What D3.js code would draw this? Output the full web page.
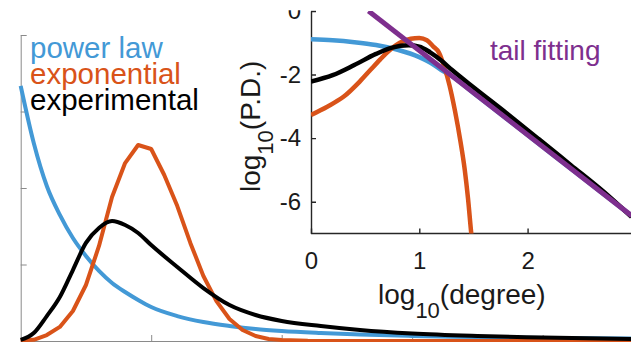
<!DOCTYPE html>
<html>
<head>
<meta charset="utf-8">
<script src="https://cdn.jsdelivr.net/npm/d3@7"></script>
<style>
  html, body { margin: 0; padding: 0; background: #fff; }
  svg { display: block; font-family: "Liberation Sans", Arial, Helvetica, sans-serif; }
</style>
</head>
<body>
<svg id="chart" width="631" height="342"></svg>
<script>
// ---------------- Main panel (linear scale) ----------------
const mainDegree = [0, 1, 2, 3, 4, 5, 6, 7, 8, 9, 10, 12, 14, 16, 18, 20, 23, 26, 30, 35, 40, 47];
const mainPowerLaw = [0.1667, 0.1294, 0.1013, 0.0824, 0.0673, 0.0556, 0.0458, 0.0379, 0.0320, 0.0268, 0.0222,
  0.0163, 0.0124, 0.0098, 0.0078, 0.0065, 0.0052, 0.0042, 0.0033, 0.0026, 0.0020, 0.0016];
const mainExperimental = [0.0007, 0.0052, 0.0163, 0.0288, 0.0464, 0.0641, 0.0739, 0.0784, 0.0758, 0.0706, 0.0627,
  0.0484, 0.0346, 0.0235, 0.0170, 0.0131, 0.0098, 0.0072, 0.0049, 0.0033, 0.0023, 0.0013];
const expDegree = [0, 1, 2, 3, 4, 5, 6, 7, 8, 9, 10, 11, 12, 13, 14, 15, 16, 17, 18, 19, 20, 22, 26, 47];
const mainExponential = [0.0005, 0.0008, 0.0039, 0.0092, 0.0196, 0.0366, 0.0621, 0.0941, 0.1163, 0.1281, 0.1255,
  0.1085, 0.0882, 0.0641, 0.0425, 0.0261, 0.0144, 0.0072, 0.0033, 0.0013, 0.0007, 0.0002, 0.0000, 0.0000];
const mainXTicks = [10, 20, 30, 40];
const mainYTicks = [0.05, 0.1, 0.15, 0.2];

// ---------------- Inset panel (log-log) ----------------
const insetPowerX = [0, 0.2, 0.4, 0.6, 0.8, 1.0, 1.1, 1.2, 1.3, 1.5, 1.8, 2.1, 2.4, 2.7, 2.96];
const insetPowerY = [-0.89, -0.92, -0.98, -1.07, -1.22, -1.45, -1.62, -1.85, -2.05, -2.58, -3.37, -4.17, -4.96, -5.76, -6.44];
const insetExpX = [0, 0.15, 0.30, 0.45, 0.55, 0.64, 0.72, 0.82, 0.92, 1.00, 1.07, 1.13, 1.18, 1.23, 1.28, 1.33, 1.38, 1.42, 1.45, 1.48, 1.50];
const insetExpY = [-3.27, -3.01, -2.70, -2.22, -1.85, -1.52, -1.25, -1.00, -0.87, -0.85, -0.92, -1.12, -1.30, -1.75, -2.35, -3.15, -4.10, -5.00, -5.90, -7.00, -7.60];
const insetExperX = [0, 0.2, 0.4, 0.6, 0.75, 0.9, 1.0, 1.1, 1.2, 1.3, 1.5, 1.8, 2.1, 2.4, 2.7, 2.96];
const insetExperY = [-2.22, -2.02, -1.70, -1.35, -1.15, -1.08, -1.12, -1.30, -1.55, -1.85, -2.40, -3.20, -4.02, -4.85, -5.68, -6.48];
const tailFitX = [0.531, 2.96];
const tailFitY = [0, -6.44];
const insetXTicks = [0, 1, 2];
const insetYTicks = [0, -2, -4, -6];

const colors = { power: "#4399D6", exp: "#D95319", exper: "#000000", tail: "#7E2F8E" };
const legendItems = [
  { label: "power law", color: colors.power },
  { label: "exponential", color: colors.exp },
  { label: "experimental", color: colors.exper }
];

const svg = d3.select("#chart");

// ---------- main scales ----------
const mx = d3.scaleLinear().domain([0, 46.77]).range([20.7, 631]);
const my = d3.scaleLinear().domain([0, 0.2]).range([341, 35]);

const mainAxisColor = "#8a8a8a";
const gmx = svg.append("g").attr("transform", "translate(0,341)")
  .call(d3.axisBottom(mx).tickValues(mainXTicks).tickSizeInner(-6).tickSizeOuter(0).tickFormat(""));
const gmy = svg.append("g").attr("transform", "translate(20.7,0)")
  .call(d3.axisLeft(my).tickValues(mainYTicks).tickSizeInner(-6).tickSizeOuter(0).tickFormat(""));
[gmx, gmy].forEach(g => {
  g.selectAll("path,line").attr("stroke", mainAxisColor).attr("stroke-width", 1);
});

const mainLine = (xs, ys, curve) => d3.line()
  .x((d, i) => mx(xs[i])).y((d, i) => my(ys[i])).curve(curve)(ys);

svg.append("path").attr("d", mainLine(mainDegree, mainPowerLaw, d3.curveMonotoneX))
  .attr("fill", "none").attr("stroke", colors.power).attr("stroke-width", 4).attr("stroke-linejoin", "round");
svg.append("path").attr("d", mainLine(expDegree, mainExponential, d3.curveLinear))
  .attr("fill", "none").attr("stroke", colors.exp).attr("stroke-width", 4).attr("stroke-linejoin", "round");
svg.append("path").attr("d", mainLine(mainDegree, mainExperimental, d3.curveMonotoneX))
  .attr("fill", "none").attr("stroke", colors.exper).attr("stroke-width", 4).attr("stroke-linejoin", "round");

// legend
svg.append("g").selectAll("text").data(legendItems).join("text")
  .attr("x", 30).attr("y", (d, i) => 57.5 + i * 26)
  .attr("font-size", 29.5).attr("fill", d => d.color).text(d => d.label);

// ---------- inset ----------
const ix = d3.scaleLinear().domain([0, 2.955]).range([311, 631]);
const iy = d3.scaleLinear().domain([-7, 0]).range([233.5, 11]);

const defs = svg.append("defs");
defs.append("clipPath").attr("id", "insetClip").append("rect")
  .attr("x", 311).attr("y", 11).attr("width", 320).attr("height", 222.5);
// clip in the local space of the y-axis group (translated by 311)
defs.append("clipPath").attr("id", "topClip").append("rect")
  .attr("x", -311).attr("y", 10.3).attr("width", 631).attr("height", 332);

const insetColor = "#262626";
const gix = svg.append("g").attr("transform", "translate(0,233.5)")
  .call(d3.axisBottom(ix).tickValues(insetXTicks).tickSizeInner(-5).tickSizeOuter(0).tickPadding(18).tickFormat(d3.format("d")));
const giy = svg.append("g").attr("transform", "translate(311,0)").attr("clip-path", "url(#topClip)")
  .call(d3.axisLeft(iy).tickValues(insetYTicks).tickSizeInner(-5).tickSizeOuter(0).tickPadding(10)
    .tickFormat(d => d < 0 ? "-" + Math.abs(d) : String(d)));
[gix, giy].forEach(g => {
  g.selectAll("path,line").attr("stroke", insetColor).attr("stroke-width", 1.4);
  g.selectAll("text").attr("font-size", 24).attr("fill", "#1a1a1a").attr("font-family", null);
});
gix.select(".domain").attr("d", "M311,0H631");

const insetPlot = svg.append("g").attr("clip-path", "url(#insetClip)");
const insetLine = (xs, ys, curve) => d3.line()
  .x((d, i) => ix(xs[i])).y((d, i) => iy(ys[i])).curve(curve)(ys);

insetPlot.append("path").attr("d", insetLine(insetPowerX, insetPowerY, d3.curveMonotoneX))
  .attr("fill", "none").attr("stroke", colors.power).attr("stroke-width", 4.5).attr("stroke-linejoin", "round");
insetPlot.append("path").attr("d", insetLine(insetExpX, insetExpY, d3.curveMonotoneX))
  .attr("fill", "none").attr("stroke", colors.exp).attr("stroke-width", 4.5).attr("stroke-linejoin", "round");
insetPlot.append("path").attr("d", insetLine(insetExperX, insetExperY, d3.curveMonotoneX))
  .attr("fill", "none").attr("stroke", colors.exper).attr("stroke-width", 4.5).attr("stroke-linejoin", "round");
insetPlot.append("path").attr("d", insetLine(tailFitX, tailFitY, d3.curveLinear))
  .attr("fill", "none").attr("stroke", colors.tail).attr("stroke-width", 5);

// tail fitting label
svg.append("text").attr("x", 490).attr("y", 59.5).attr("font-size", 28)
  .attr("fill", colors.tail).text("tail fitting");

// axis labels
const xl = svg.append("text").attr("x", 378).attr("y", 303.5).attr("font-size", 28).attr("fill", "#1a1a1a");
xl.append("tspan").text("log");
xl.append("tspan").attr("font-size", 22).attr("dy", 14).text("10");
xl.append("tspan").attr("dy", -14).text("(degree)");

const yl = svg.append("text").attr("transform", "translate(260,192) rotate(-90)")
  .attr("font-size", 28).attr("fill", "#1a1a1a");
yl.append("tspan").text("log");
yl.append("tspan").attr("font-size", 22).attr("dy", 13).text("10");
yl.append("tspan").attr("dy", -13).text("(P.D.)");
</script>
</body>
</html>
